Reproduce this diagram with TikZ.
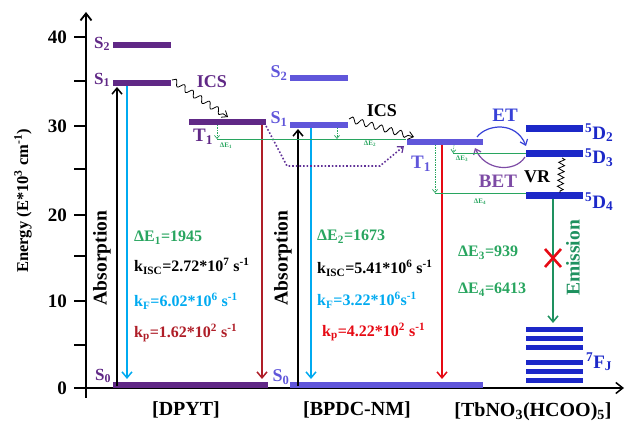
\documentclass[tikz,border=0pt]{standalone}
\usepackage{fontspec}
\setmainfont{Liberation Serif}
\usetikzlibrary{decorations.pathmorphing,arrows.meta}
\definecolor{dpurple}{RGB}{96,40,134}
\definecolor{bpurple}{RGB}{96,86,218}
\definecolor{tbblue}{RGB}{28,40,200}
\definecolor{cyanc}{RGB}{0,170,240}
\definecolor{dred}{RGB}{175,30,40}
\definecolor{bred}{RGB}{230,10,20}
\definecolor{greent}{RGB}{40,165,95}
\definecolor{greena}{RGB}{30,145,95}
\definecolor{etblue}{RGB}{55,65,215}
\definecolor{betpurple}{RGB}{125,75,165}
\tikzset{
  fs/.style={font=\fontsize{#1}{#1}\selectfont\bfseries},
  txt/.style={fs=16, anchor=west, inner sep=0pt},
  lvltxt/.style={fs=18, inner sep=0pt},
  vlab/.style={fs=19.5, rotate=90, inner sep=0pt},
  bar/.style={line width=6pt},
  tbbar/.style={line width=7pt, tbblue},
  fjbar/.style={line width=5pt, tbblue},
  varr/.style={line width=1.5pt, -{Straight Barb[length=6pt,width=10pt,line width=1.5pt]}},
  gline/.style={greent, line width=0.6pt},
  garr/.style={greent, line width=0.7pt, densely dotted, -{Straight Barb[length=3pt,width=5pt,line width=0.7pt]}},
  small/.style={fs=7, greent, inner sep=0pt},
  wavy/.style={line width=0.8pt, decorate, decoration={snake, segment length=10pt, amplitude=3pt, post length=5pt}},
}
\begin{document}
\begin{tikzpicture}[x=1pt,y=-1pt]
\useasboundingbox (0,0) rectangle (627,427);
% axes
\coordinate (ybot) at (86,398);
\coordinate (ytop) at (86,12);
\coordinate (xl) at (86,388);
\coordinate (xr) at (624,388);
\draw[line width=1.8pt, -{Straight Barb[length=7pt,width=11pt,line width=1.8pt]}] (ybot) -- (ytop);
\draw[line width=1.5pt, -{Straight Barb[length=7pt,width=11pt,line width=1.5pt]}] (xl) -- (xr);
\foreach \v/\yy in {40/37,30/126,20/215,10/301,0/388} {
  \draw[line width=1.5pt] (74,\yy) -- (86,\yy);
  \node[fs=19, anchor=east, inner sep=0pt] (t\v) at (67,\yy) {\v};
}
\foreach \yy in {81,169,256,345} \draw[line width=1.5pt] (74,\yy) -- (86,\yy);
\node[vlab, fs=16.5] (ylab) at (23,201) {Energy (E*10\textsuperscript{3} cm\textsuperscript{-1})};

% DPYT levels
\draw[bar, dpurple] (113,45) -- (171,45);
\draw[bar, dpurple] (113,83) -- (171,83);
\draw[bar, dpurple] (189,122) -- (266,122);
\draw[bar, dpurple] (113,385) -- (268,385);
\node[lvltxt, text=dpurple, fs=17] (as2) at (102,44) {S\textsubscript{2}};
\node[lvltxt, text=dpurple, fs=17] (as1) at (102,80) {S\textsubscript{1}};
\node[lvltxt, text=dpurple, fs=19] (at1) at (203,137) {T\textsubscript{1}};
\node[lvltxt, text=dpurple, fs=17] (as0) at (103,376) {S\textsubscript{0}};

% BPDC levels
\draw[bar, bpurple] (290,78) -- (348,78);
\draw[bar, bpurple] (290,125) -- (348,125);
\draw[bar, bpurple] (407,142) -- (483,142);
\draw[bar, bpurple] (290,385) -- (483,385);
\node[lvltxt, text=bpurple] (bs2) at (279,73) {S\textsubscript{2}};
\node[lvltxt, text=bpurple] (bs1) at (279,119) {S\textsubscript{1}};
\node[lvltxt, text=bpurple, fs=19] (bt1) at (421,164) {T\textsubscript{1}};
\node[lvltxt, text=bpurple] (bs0) at (281,377) {S\textsubscript{0}};

% Tb levels
\draw[tbbar] (526,129) -- (583,129);
\draw[tbbar] (526,154) -- (583,154);
\draw[tbbar] (526,196) -- (583,196);
\foreach \yy in {330,339,348,363,372,381} \draw[fjbar] (526,\yy) -- (583,\yy);
\node[lvltxt, fs=19, text=tbblue, anchor=west] (d2) at (585,133) {\textsuperscript{5}D\textsubscript{2}};
\node[lvltxt, fs=19, text=tbblue, anchor=west] (d3) at (585,158) {\textsuperscript{5}D\textsubscript{3}};
\node[lvltxt, fs=19, text=tbblue, anchor=west] (d4) at (585,202) {\textsuperscript{5}D\textsubscript{4}};
\node[lvltxt, fs=19, text=tbblue, anchor=west] (fj) at (586,362) {\textsuperscript{7}F\textsubscript{J}};

% vertical arrows DPYT
\coordinate (aA0) at (117,386); \coordinate (aA1) at (117,87);
\draw[varr, black] (aA0) -- (aA1);
\coordinate (aF0) at (127,86); \coordinate (aF1) at (127,379);
\draw[varr, cyanc] (aF0) -- (aF1);
\coordinate (aP0) at (262,125); \coordinate (aP1) at (262,379);
\draw[varr, dred] (aP0) -- (aP1);
\node[vlab] (absA) at (102,258) {Absorption};

% vertical arrows BPDC
\coordinate (bA0) at (298,386); \coordinate (bA1) at (298,129);
\draw[varr, black] (bA0) -- (bA1);
\coordinate (bF0) at (311,128); \coordinate (bF1) at (311,379);
\draw[varr, cyanc] (bF0) -- (bF1);
\coordinate (bP0) at (442,145); \coordinate (bP1) at (442,379);
\draw[varr, bred] (bP0) -- (bP1);
\node[vlab] (absB) at (283,258) {Absorption};

% emission
\coordinate (e0) at (553,199); \coordinate (e1) at (553,323);
\draw[varr, greena] (e0) -- (e1);
\node[vlab, text=greena] (emi) at (573,258) {Emission};
\coordinate (xc) at (553,258);
\draw[bred, line width=2.6pt] ([shift={(-8,-9)}]xc) -- ([shift={(8,9)}]xc);
\draw[bred, line width=2.6pt] ([shift={(-8,9)}]xc) -- ([shift={(8,-9)}]xc);

% ICS wavy
\coordinate (i1a) at (172,80); \coordinate (i1b) at (228,117);
\draw[wavy, -{Straight Barb[length=5pt,width=8pt,line width=0.8pt]}] (i1a) -- (i1b);
\node[lvltxt, text=dpurple] (ics1) at (212,82) {ICS};
\coordinate (i2a) at (349,119); \coordinate (i2b) at (414,137);
\draw[wavy, -{Straight Barb[length=5pt,width=8pt,line width=0.8pt]}] (i2a) -- (i2b);
\node[lvltxt] (ics2) at (382,111) {ICS};
% VR
\coordinate (v0) at (562,158); \coordinate (v1) at (560,193);
\draw[line width=0.8pt, decorate, decoration={zigzag, segment length=6pt, amplitude=3pt}] (v0) -- (v1);
\node[lvltxt] (vr) at (537,177) {VR};

% ET / BET
\coordinate (et0) at (477,137); \coordinate (et1) at (526,146);
\draw[etblue, line width=1.2pt, -{Straight Barb[length=5pt,width=8pt,line width=1.2pt]}] (et0) .. controls (487,124) and (516,121) .. (et1);
\node[lvltxt, text=etblue, fs=19] (et) at (505,115) {ET};
\coordinate (bt0) at (525,157); \coordinate (bt1) at (475,148);
\draw[betpurple, line width=1.2pt, -{Straight Barb[length=5pt,width=8pt,line width=1.2pt]}] (bt0) .. controls (515,173) and (485,171) .. (bt1);
\node[lvltxt, text=betpurple, fs=19] (bet) at (498,181) {BET};

% dotted purple path
\coordinate (dp0) at (266,126); \coordinate (dp1) at (287,166);
\coordinate (dp2) at (380,166); \coordinate (dp3) at (404,146);
\draw[dpurple!80!bpurple, line width=1.6pt, dotted, -{Straight Barb[length=5pt,width=8pt,line width=1.2pt]}] (dp0) -- (dp1) -- (dp2) -- (dp3);

% green delta lines
\coordinate (g1a) at (217,139); \coordinate (g1b) at (406,139);
\draw[gline] (g1a) -- (g1b);
\coordinate (g2a) at (453,153); \coordinate (g2b) at (526,153);
\draw[gline] (g2a) -- (g2b);
\coordinate (g3a) at (435,193); \coordinate (g3b) at (526,193);
\draw[gline] (g3a) -- (g3b);
\draw[garr] (217,125) -- (g1a);
\draw[garr] (337,128) -- (337,139);
\draw[garr] (454,145) -- (g2a);
\draw[garr] (435,145) -- (g3a);
\node[small] (sd1) at (226,146) {ΔE\textsubscript{1}};
\node[small] (sd2) at (370,144) {ΔE\textsubscript{2}};
\node[small] (sd3) at (462,159) {ΔE\textsubscript{3}};
\node[small] (sd4) at (480,202) {ΔE\textsubscript{4}};

% parameter texts DPYT
\node[txt, text=greent] (p1) at (134,238) {ΔE\textsubscript{1}=1945};
\node[txt] (p2) at (134,266) {k\textsubscript{ISC}=2.72*10\textsuperscript{7} s\textsuperscript{-1}};
\node[txt, text=cyanc] (p3) at (134,301) {k\textsubscript{F}=6.02*10\textsuperscript{6} s\textsuperscript{-1}};
\node[txt, text=dred] (p4) at (134,333) {k\textsubscript{p}=1.62*10\textsuperscript{2} s\textsuperscript{-1}};
% BPDC
\node[txt, text=greent] (q1) at (317,237) {ΔE\textsubscript{2}=1673};
\node[txt] (q2) at (317,268) {k\textsubscript{ISC}=5.41*10\textsuperscript{6} s\textsuperscript{-1}};
\node[txt, text=cyanc] (q3) at (317,300) {k\textsubscript{F}=3.22*10\textsuperscript{6}s\textsuperscript{-1}};
\node[txt, text=bred] (q4) at (322,332) {k\textsubscript{p}=4.22*10\textsuperscript{2} s\textsuperscript{-1}};
% Tb
\node[txt, text=greent] (r1) at (458,253) {ΔE\textsubscript{3}=939};
\node[txt, text=greent] (r2) at (458,290) {ΔE\textsubscript{4}=6413};

% bottom labels
\node[fs=20, inner sep=0pt] (n1) at (186,410) {[DPYT]};
\node[fs=20, inner sep=0pt] (n2) at (357,410) {[BPDC-NM]};
\node[fs=20, inner sep=0pt] (n3) at (533,412) {[TbNO\textsubscript{3}(HCOO)\textsubscript{5}]};
\end{tikzpicture}
\end{document}
